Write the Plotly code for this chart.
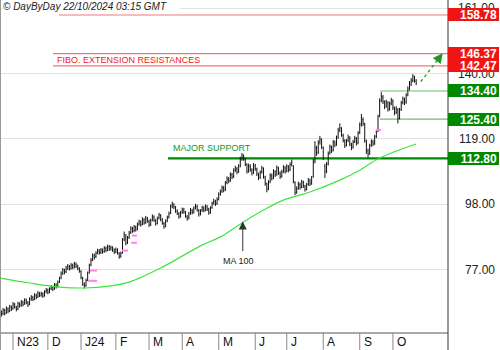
import pandas as pd
import plotly.graph_objects as go

# ---- trading calendar -------------------------------------------------------
SESSION_START = "2023-10-20"
SESSION_END = "2024-10-21"
HOLIDAYS = ["2023-11-23", "2023-12-25", "2024-01-01", "2024-01-15", "2024-02-19",
            "2024-03-29", "2024-05-27", "2024-06-19", "2024-07-04", "2024-09-02"]
dates = pd.bdate_range(SESSION_START, SESSION_END, freq="C", holidays=HOLIDAYS)

# ---- daily prices -----------------------------------------------------------
open_ = [
    63.0, 63.6, 62.9, 64.0, 63.2, 64.5, 63.9, 65.0, 64.6, 65.8,
    65.0, 64.5, 66.0, 65.7, 66.6, 66.1, 67.2, 66.4, 66.0, 67.7,
    68.1, 67.7, 68.8, 68.4, 69.4, 68.9, 69.3, 68.8, 70.0, 70.4,
    69.9, 71.0, 71.4, 71.0, 72.1, 71.8, 73.2, 74.4, 75.9, 76.8,
    76.4, 77.5, 78.0, 77.5, 78.4, 77.9, 78.8, 78.1, 77.4, 76.5,
    74.3, 72.2, 72.0, 73.8, 76.2, 78.6, 80.3, 81.5, 81.2, 82.5,
    83.0, 82.6, 83.3, 82.9, 83.9, 83.4, 84.4, 83.8, 84.1, 83.3,
    82.9, 83.5, 82.3, 81.4, 82.6, 86.8, 88.0, 85.8, 87.4, 89.0,
    90.1, 89.6, 90.6, 90.1, 91.7, 92.2, 91.7, 93.0, 92.2, 93.4,
    92.5, 91.6, 93.0, 93.9, 92.8, 92.0, 93.7, 94.4, 93.0, 91.9,
    91.1, 92.8, 94.0, 95.3, 97.5, 97.8, 97.0, 95.8, 95.0, 94.2,
    95.5, 96.2, 95.4, 94.1, 93.7, 95.2, 96.0, 95.6, 96.9, 97.3,
    96.1, 95.0, 96.1, 96.8, 96.3, 97.2, 96.3, 95.5, 97.0, 98.5,
    98.8, 98.3, 99.8, 101.4, 102.2, 103.2, 102.8, 105.0, 106.0, 105.7,
    107.4, 107.0, 109.1, 109.4, 108.6, 110.4, 112.7, 113.4, 112.6, 110.8,
    108.8, 110.2, 109.0, 108.2, 110.4, 109.3, 107.6, 106.7, 108.4, 109.5,
    106.8, 104.6, 103.1, 105.3, 107.1, 106.6, 108.4, 107.7, 109.6, 108.0,
    107.1, 108.6, 109.7, 108.8, 110.0, 109.2, 110.9, 110.2, 105.0, 102.0,
    103.2, 104.4, 103.7, 105.0, 103.8, 103.0, 104.5, 105.6, 104.8, 107.0,
    112.0, 116.0, 114.7, 118.0, 118.6, 116.2, 110.2, 108.8, 111.0, 114.5,
    116.3, 115.4, 117.8, 117.3, 119.6, 122.0, 122.3, 120.2, 118.4, 117.1,
    118.5, 119.4, 117.2, 116.4, 118.2, 119.1, 117.8, 121.0, 123.7, 125.2,
    123.8, 118.3, 115.2, 114.4, 117.0, 118.0, 117.6, 119.8, 121.6, 126.5,
    131.4, 132.4, 130.8, 129.6, 130.6, 128.7, 130.4, 131.2, 128.8, 127.6,
    128.4, 125.8, 128.5, 130.7, 131.6, 130.8, 133.1, 135.2, 136.6, 137.8,
    138.8, 137.6,
]
high = [
    64.3, 64.0, 64.8, 64.5, 65.3, 65.0, 65.8, 65.6, 66.7, 66.4,
    65.5, 66.8, 66.6, 67.3, 67.1, 67.9, 67.8, 67.0, 68.2, 68.9,
    68.7, 69.5, 69.4, 70.2, 69.9, 70.0, 69.8, 70.5, 71.2, 71.0,
    71.4, 72.1, 71.9, 72.8, 72.7, 73.6, 74.8, 76.5, 77.6, 77.4,
    78.3, 78.9, 78.6, 79.2, 79.0, 79.6, 79.4, 78.7, 77.9, 76.9,
    74.8, 73.0, 74.2, 76.5, 79.0, 80.8, 82.3, 82.2, 83.0, 83.8,
    83.7, 84.0, 83.9, 84.6, 84.5, 85.1, 85.0, 84.8, 84.6, 83.9,
    84.2, 83.9, 82.7, 82.9, 87.2, 89.3, 88.5, 87.9, 89.5, 91.0,
    90.8, 91.4, 91.2, 92.2, 93.1, 92.9, 93.9, 93.6, 94.3, 94.0,
    93.1, 93.4, 94.8, 94.5, 93.3, 94.1, 95.3, 94.9, 93.6, 92.4,
    93.2, 94.4, 95.7, 98.0, 98.9, 98.4, 97.5, 96.4, 95.5, 95.9,
    97.0, 96.9, 95.9, 94.6, 95.6, 96.9, 96.6, 97.4, 98.2, 97.9,
    96.5, 96.5, 97.6, 97.4, 98.0, 97.8, 96.9, 97.4, 98.9, 99.8,
    99.5, 100.3, 101.9, 102.8, 104.1, 103.9, 105.5, 107.0, 106.8, 108.3,
    108.1, 109.6, 110.4, 110.0, 110.9, 113.3, 114.5, 114.1, 113.0, 111.2,
    111.1, 110.9, 109.6, 111.3, 111.0, 109.8, 108.2, 108.9, 110.4, 109.9,
    107.2, 105.0, 105.8, 108.0, 107.9, 109.3, 109.0, 110.5, 110.1, 108.6,
    109.1, 110.6, 110.3, 110.9, 110.6, 111.5, 112.4, 110.6, 105.4, 103.8,
    105.3, 105.0, 105.9, 105.6, 104.3, 104.9, 106.5, 106.2, 107.1, 112.6,
    118.3, 116.8, 118.6, 120.0, 119.2, 116.6, 111.0, 111.6, 115.0, 117.2,
    116.9, 118.7, 118.5, 120.1, 122.6, 124.0, 122.8, 120.7, 118.9, 119.0,
    120.4, 119.9, 117.8, 118.7, 120.0, 119.6, 121.5, 124.3, 127.0, 125.9,
    124.2, 118.8, 115.9, 117.5, 118.9, 118.7, 120.3, 121.9, 126.8, 132.0,
    134.0, 133.1, 131.4, 131.6, 131.1, 131.0, 132.2, 131.7, 129.4, 129.5,
    128.9, 129.0, 131.2, 132.6, 132.3, 133.7, 135.9, 137.6, 138.5, 139.8,
    139.3, 138.2,
]
low = [
    62.2, 62.0, 62.5, 62.4, 62.9, 63.1, 63.5, 63.8, 64.2, 64.6,
    63.7, 64.1, 64.9, 65.2, 65.3, 65.8, 66.0, 65.1, 65.7, 67.1,
    67.0, 67.3, 67.6, 68.0, 68.3, 68.4, 68.0, 68.4, 69.5, 69.2,
    69.5, 70.5, 70.2, 70.6, 71.0, 71.4, 72.8, 74.0, 75.4, 75.6,
    76.0, 77.0, 76.8, 77.1, 77.2, 77.5, 77.6, 76.9, 76.1, 74.0,
    71.9, 71.0, 71.6, 73.4, 75.8, 78.2, 79.8, 80.3, 80.8, 82.0,
    81.9, 82.1, 82.2, 82.5, 82.7, 83.0, 83.1, 83.2, 82.8, 82.1,
    82.4, 81.9, 80.6, 80.9, 82.2, 86.2, 84.9, 85.3, 86.9, 88.5,
    88.9, 89.1, 89.3, 89.7, 91.2, 90.9, 91.3, 91.5, 91.8, 92.1,
    90.8, 91.1, 92.6, 92.4, 91.2, 91.6, 93.2, 92.6, 91.5, 90.2,
    90.7, 92.3, 93.5, 94.9, 96.8, 96.5, 95.3, 94.6, 93.4, 93.8,
    95.0, 95.0, 93.7, 92.8, 93.2, 94.7, 94.8, 95.1, 96.4, 95.7,
    94.1, 94.5, 95.6, 95.5, 95.8, 95.9, 94.7, 95.0, 96.6, 97.9,
    97.5, 97.9, 99.3, 100.8, 101.7, 101.9, 102.3, 104.5, 104.8, 105.2,
    106.1, 106.5, 108.4, 107.7, 108.1, 109.9, 112.0, 112.0, 110.3, 107.9,
    108.2, 108.5, 107.3, 107.8, 108.8, 107.1, 105.8, 106.2, 107.9, 106.3,
    104.0, 101.9, 102.6, 104.8, 105.7, 106.1, 106.8, 107.2, 107.5, 106.2,
    106.6, 108.1, 107.9, 108.3, 108.3, 108.7, 110.2, 104.8, 101.0, 101.4,
    102.7, 102.8, 103.2, 103.3, 102.1, 102.5, 104.0, 103.9, 104.3, 106.6,
    111.2, 113.6, 114.2, 117.2, 115.8, 112.3, 106.5, 108.0, 110.5, 114.0,
    114.5, 115.0, 116.4, 116.8, 119.1, 121.2, 119.7, 117.9, 116.1, 116.6,
    118.0, 116.7, 115.4, 115.9, 117.7, 116.9, 117.3, 120.6, 123.0, 123.2,
    117.8, 114.2, 113.0, 113.9, 116.5, 116.7, 117.1, 119.3, 121.2, 126.0,
    130.8, 130.2, 128.6, 129.0, 127.8, 128.1, 129.8, 128.3, 126.6, 127.0,
    124.0, 125.3, 128.0, 130.1, 129.9, 130.3, 132.7, 134.6, 136.0, 137.2,
    137.1, 136.3,
]
close = [
    63.5, 62.8, 64.2, 63.0, 64.6, 63.8, 65.2, 64.4, 66.0, 65.1,
    64.3, 66.2, 65.5, 66.8, 65.9, 67.4, 66.5, 65.8, 67.6, 68.3,
    67.5, 69.0, 68.2, 69.6, 68.8, 69.4, 68.6, 69.9, 70.6, 69.8,
    70.9, 71.5, 70.8, 72.3, 71.6, 73.0, 74.2, 75.8, 76.9, 76.2,
    77.6, 78.1, 77.3, 78.5, 77.8, 78.9, 78.2, 77.5, 76.8, 74.5,
    72.4, 71.8, 73.6, 75.9, 78.4, 80.1, 81.6, 81.0, 82.4, 83.1,
    82.5, 83.4, 82.8, 84.0, 83.3, 84.5, 83.7, 84.2, 83.4, 82.8,
    83.6, 82.5, 81.2, 82.3, 86.5, 88.4, 85.6, 87.2, 88.8, 90.3,
    89.5, 90.8, 89.9, 91.6, 92.4, 91.5, 93.2, 92.0, 93.6, 92.7,
    91.4, 92.8, 94.1, 93.0, 91.8, 93.5, 94.6, 93.2, 92.1, 90.9,
    92.6, 93.8, 95.0, 97.3, 98.0, 97.2, 96.0, 95.2, 94.0, 95.3,
    96.4, 95.6, 94.3, 93.5, 95.0, 96.2, 95.4, 96.8, 97.5, 96.3,
    94.8, 95.9, 97.0, 96.1, 97.4, 96.5, 95.3, 96.8, 98.3, 99.0,
    98.1, 99.6, 101.2, 102.0, 103.4, 102.6, 104.8, 106.2, 105.5, 107.6,
    106.8, 108.9, 109.6, 108.4, 110.2, 112.5, 113.6, 112.8, 111.0, 108.6,
    110.4, 109.2, 108.0, 110.6, 109.5, 107.8, 106.5, 108.2, 109.7, 107.0,
    104.8, 102.9, 105.1, 107.3, 106.4, 108.6, 107.5, 109.8, 108.2, 106.9,
    108.4, 109.9, 108.6, 110.2, 109.0, 110.8, 111.6, 105.5, 101.8, 103.0,
    104.6, 103.5, 105.2, 104.0, 102.8, 104.3, 105.8, 104.6, 106.4, 111.5,
    116.2, 114.5, 117.8, 118.9, 116.5, 113.0, 108.6, 110.8, 114.3, 116.5,
    115.2, 118.0, 117.1, 119.4, 121.8, 122.6, 120.4, 118.6, 116.9, 118.3,
    119.6, 117.4, 116.2, 118.0, 119.3, 117.6, 120.8, 123.5, 125.4, 124.0,
    118.5, 115.0, 114.2, 116.8, 118.2, 117.4, 119.6, 121.2, 126.0, 131.2,
    132.6, 131.0, 129.4, 130.8, 128.5, 130.2, 131.4, 129.0, 127.4, 128.8,
    125.6, 128.3, 130.5, 131.8, 130.6, 132.9, 135.0, 136.8, 137.6, 139.0,
    137.8, 136.9,
]

# ---- 100-day moving average (session index, value) --------------------------
ma100_session = [0, 18, 36, 51, 66, 78, 97, 121, 133, 147, 159, 171, 187, 205, 217, 229, 251]
ma100 = [74.4, 72.8, 71.5, 71.2, 71.8, 73.1, 77.6, 84.7, 87.6, 92.4, 96.2, 99.4,
         102.0, 105.8, 109.0, 112.9, 117.4]

# ---- unfilled gaps (from session, to session, level) ------------------------
gap_from = [53.3, 54.4, 73.7, 79.2, 79.6, 226.8]
gap_to = [58.6, 58.6, 77.3, 82.7, 82.7, 229.8]
gap_level = [73.5, 76.8, 83.2, 85.7, 88.0, 121.9]

# ---- levels and labels -------------------------------------------------------
month_labels = ["N23", "D", "J24", "F", "M", "A", "M", "J", "J", "A", "S", "O"]
y_ticks = [161.00, 140.00, 119.00, 98.00, 77.00]
resistances = [158.78, 146.37, 142.47]
resistance_from = [35.7, 32.1, 32.1]
supports = [134.40, 125.40, 112.80]
support_from = [229.2, 229.2, 101.4]

# ---- layout constants --------------------------------------------------------
W, H = 500, 350
ML, MR, MT, MB = 0, 52, 0, 17
PW, PH = W - ML - MR, H - MT - MB
X_RANGE = [0.16, 270.2]
Y_RANGE = [56.76, 163.59]
FONT = "Liberation Sans, Arial, sans-serif"
NARROW = "Liberation Sans Narrow, Liberation Sans, Arial, sans-serif"
RED = "#f01515"
RED_LINE = "#f27878"
GREEN = "#008800"
GREEN_LINE = "#6cc06c"
MA_GREEN = "#3de63d"


def px_x(p):
    """horizontal pixel -> paper fraction"""
    return p / PW


def px_y(p):
    """vertical pixel from top -> paper fraction"""
    return 1 - p / PH


sessions = list(range(len(dates)))
month_start = [i for i in range(1, len(dates)) if dates[i].month != dates[i - 1].month]

fig = go.Figure()

fig.add_trace(go.Ohlc(
    x=sessions, open=open_, high=high, low=low, close=close,
    increasing=dict(line=dict(color="#111111", width=1)),
    decreasing=dict(line=dict(color="#111111", width=1)),
    tickwidth=0.3, hoverinfo="skip",
))

fig.add_trace(go.Scatter(
    x=ma100_session, y=ma100, mode="lines",
    line=dict(color=MA_GREEN, width=1.2, shape="spline", smoothing=1.0),
    hoverinfo="skip",
))

gx, gy = [], []
for a, b, lv in zip(gap_from, gap_to, gap_level):
    gx += [a, b, None]
    gy += [lv, lv, None]
fig.add_trace(go.Scatter(x=gx, y=gy, mode="lines",
                         line=dict(color="#ff80f0", width=2), hoverinfo="skip"))

shapes = []
for lv, x0 in zip(resistances, resistance_from):
    shapes.append(dict(type="line", xref="x", yref="y", x0=x0, x1=X_RANGE[1], y0=lv, y1=lv,
                       line=dict(color=RED_LINE, width=1.2), layer="below"))
for lv, x0 in zip(supports, support_from):
    major = lv == supports[-1]
    shapes.append(dict(type="line", xref="x", yref="y", x0=x0, x1=X_RANGE[1], y0=lv, y1=lv,
                       line=dict(color=GREEN if major else GREEN_LINE, width=2.2 if major else 1.2),
                       layer="below"))

# frame: bottom axis, right axis, left border and month separators
shapes.append(dict(type="line", xref="paper", yref="paper", x0=0, x1=1, y0=0, y1=0,
                   line=dict(color="#555555", width=1)))
shapes.append(dict(type="line", xref="paper", yref="paper", x0=1, x1=1, y0=px_y(H), y1=1,
                   line=dict(color="#333333", width=1)))
shapes.append(dict(type="line", xref="paper", yref="paper", x0=px_x(0.5), x1=px_x(0.5),
                   y0=px_y(H), y1=1, line=dict(color="#999999", width=1)))
for s in month_start:
    shapes.append(dict(type="line", xref="x", yref="paper", x0=s, x1=s, y0=0, y1=px_y(H),
                       line=dict(color="#888888", width=1)))

# projected move: dotted arrow shaft
shapes.append(dict(type="line", xref="x", yref="y", x0=253.8, y0=137.4, x1=265.6, y1=145.5,
                   line=dict(color="#1a9a1a", width=1.3, dash="dot")))

annotations = []
for s, lab in zip(month_start, month_labels):
    annotations.append(dict(x=s, y=px_y(PH + MB / 2), xref="x", yref="paper", text=lab,
                            showarrow=False, xanchor="left", yanchor="middle", xshift=2,
                            font=dict(family=FONT, size=12, color="#111111")))

for t in y_ticks:
    annotations.append(dict(x=px_x(497), y=t, xref="paper", yref="y", text=f"{t:.2f}",
                            showarrow=False, xanchor="right", yanchor="middle",
                            font=dict(family=NARROW, size=12, color="#222222")))

for lv in resistances + supports:
    col = RED if lv in resistances else GREEN
    annotations.append(dict(x=1.0, y=lv, xref="paper", yref="y", text=f"<b>{lv:.2f}</b>",
                            showarrow=False, xanchor="left", yanchor="middle",
                            width=47, height=9, align="right", borderpad=1,
                            borderwidth=1, bordercolor=col, bgcolor=col,
                            font=dict(family=NARROW, size=12, color="white")))

annotations.append(dict(x=px_x(2), y=px_y(7), xref="paper", yref="paper",
                        text="<i>© DayByDay 22/10/2024 03:15 GMT</i>", showarrow=False,
                        xanchor="left", yanchor="middle", align="left", width=176, height=11,
                        borderpad=0, bgcolor="white",
                        font=dict(family=FONT, size=10, color="#1a1a1a")))

annotations.append(dict(x=33.3, y=144.4, xref="x", yref="y", text="FIBO. EXTENSION RESISTANCES",
                        showarrow=False, xanchor="left", yanchor="middle",
                        font=dict(family=FONT, size=9, color="#f02020")))
annotations.append(dict(x=103.1, y=116.1, xref="x", yref="y", text="MAJOR SUPPORT",
                        showarrow=False, xanchor="left", yanchor="middle",
                        font=dict(family=FONT, size=9, color="#11991a")))

# MA 100 pointer
annotations.append(dict(x=146.5, y=92.5, xref="x", yref="y", text="", showarrow=True,
                        ax=0, ay=31, arrowhead=2, arrowsize=1.6, arrowwidth=1,
                        arrowcolor="#333333"))
annotations.append(dict(x=144.2, y=79.9, xref="x", yref="y", text="MA 100", showarrow=False,
                        xanchor="center", yanchor="middle",
                        font=dict(family=FONT, size=9, color="#222222")))

# projected move: arrow head
annotations.append(dict(x=267.0, y=146.5, xref="x", yref="y", axref="x", ayref="y",
                        ax=264.0, ay=144.4, text="", showarrow=True, arrowhead=2,
                        arrowsize=1.4, arrowwidth=1.4, arrowcolor="#1a9a1a"))

fig.update_layout(
    width=W, height=H, autosize=False,
    margin=dict(l=ML, r=MR, t=MT, b=MB, pad=0),
    paper_bgcolor="white", plot_bgcolor="white", showlegend=False,
    xaxis=dict(range=X_RANGE, visible=False, rangeslider=dict(visible=False), fixedrange=True),
    yaxis=dict(range=Y_RANGE, tickvals=y_ticks, showticklabels=False, ticks="",
               showgrid=True, gridcolor="#e2e2e2", gridwidth=1, zeroline=False,
               showline=False, fixedrange=True),
    shapes=shapes, annotations=annotations,
)

fig.write_html("out.html", config={"displayModeBar": False})
